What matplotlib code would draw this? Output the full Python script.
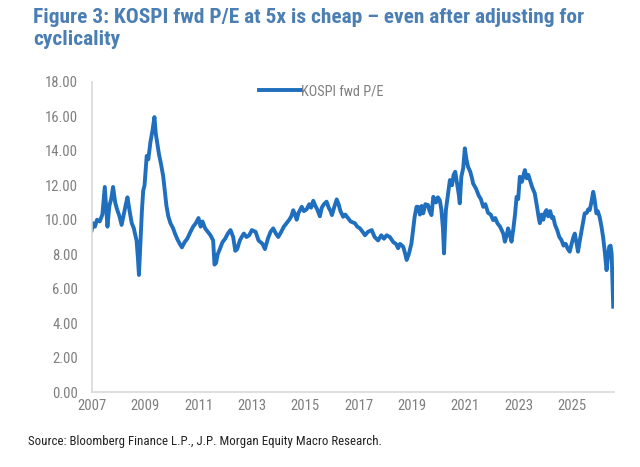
import matplotlib.pyplot as plt

# KOSPI 12m forward P/E (decimal years)
years = [
    2007.00, 2007.05, 2007.12, 2007.20, 2007.30, 2007.40, 2007.49, 2007.55, 2007.59, 2007.66,
    2007.73, 2007.80, 2007.88, 2007.95, 2008.04, 2008.12, 2008.20, 2008.28, 2008.34, 2008.42,
    2008.50, 2008.58, 2008.62, 2008.68, 2008.73, 2008.77, 2008.82, 2008.88, 2008.93, 2008.98,
    2009.06, 2009.12, 2009.20, 2009.28, 2009.35, 2009.40, 2009.44, 2009.52, 2009.60, 2009.68,
    2009.75, 2009.80, 2009.87, 2009.95, 2010.05, 2010.12, 2010.20, 2010.30, 2010.38, 2010.48,
    2010.58, 2010.70, 2010.80, 2010.90, 2011.00, 2011.08, 2011.15, 2011.25, 2011.35, 2011.45,
    2011.55, 2011.60, 2011.66, 2011.72, 2011.80, 2011.90, 2012.00, 2012.10, 2012.20, 2012.30,
    2012.38, 2012.45, 2012.55, 2012.62, 2012.70, 2012.80, 2012.90, 2013.00, 2013.14, 2013.25,
    2013.40, 2013.49, 2013.60, 2013.70, 2013.80, 2013.90, 2013.99, 2014.10, 2014.20, 2014.30,
    2014.40, 2014.48, 2014.55, 2014.62, 2014.68, 2014.75, 2014.87, 2014.95, 2015.05, 2015.15,
    2015.22, 2015.30, 2015.38, 2015.45, 2015.55, 2015.62, 2015.70, 2015.80, 2015.88, 2015.95,
    2016.00, 2016.10, 2016.18, 2016.25, 2016.32, 2016.42, 2016.50, 2016.60, 2016.70, 2016.86,
    2016.95, 2017.05, 2017.15, 2017.24, 2017.35, 2017.49, 2017.60, 2017.73, 2017.85, 2017.95,
    2018.05, 2018.17, 2018.30, 2018.40, 2018.48, 2018.55, 2018.67, 2018.75, 2018.80, 2018.88,
    2018.98, 2019.05, 2019.10, 2019.17, 2019.23, 2019.30, 2019.36, 2019.42, 2019.50, 2019.60,
    2019.66, 2019.73, 2019.80, 2019.90, 2019.97, 2020.04, 2020.10, 2020.16, 2020.20, 2020.24,
    2020.27, 2020.35, 2020.42, 2020.50, 2020.56, 2020.62, 2020.68, 2020.75, 2020.79, 2020.85,
    2020.92, 2020.98, 2021.04, 2021.10, 2021.18, 2021.25, 2021.29, 2021.40, 2021.50, 2021.58,
    2021.67, 2021.75, 2021.85, 2021.95, 2022.04, 2022.12, 2022.20, 2022.30, 2022.36, 2022.42,
    2022.48, 2022.55, 2022.60, 2022.66, 2022.73, 2022.80, 2022.86, 2022.92, 2022.98, 2023.04,
    2023.12, 2023.18, 2023.23, 2023.30, 2023.36, 2023.42, 2023.50, 2023.60, 2023.68, 2023.74,
    2023.79, 2023.86, 2023.92, 2023.98, 2024.04, 2024.10, 2024.18, 2024.24, 2024.29, 2024.36,
    2024.44, 2024.52, 2024.60, 2024.68, 2024.76, 2024.84, 2024.91, 2024.98, 2025.05, 2025.10,
    2025.16, 2025.22, 2025.30, 2025.38, 2025.47, 2025.55, 2025.60, 2025.66, 2025.72, 2025.79,
    2025.84, 2025.91, 2025.96, 2026.03, 2026.10, 2026.16, 2026.22, 2026.29, 2026.34, 2026.39,
    2026.44, 2026.48, 2026.51, 2026.54,
]
pe = [
    9.4, 9.8, 9.6, 10.0, 9.9, 10.3, 11.9, 10.5, 9.6, 10.8,
    11.2, 11.9, 11.0, 10.6, 10.2, 9.7, 10.3, 10.9, 11.3, 10.5,
    9.8, 9.5, 9.2, 8.8, 7.8, 6.8, 8.5, 10.5, 11.7, 12.0,
    13.7, 13.5, 14.5, 15.2, 15.95, 15.0, 14.6, 13.8, 13.2, 12.5,
    11.5, 10.8, 10.2, 9.8, 9.5, 9.2, 8.9, 8.6, 8.4, 8.7,
    8.9, 9.3, 9.6, 9.8, 10.1, 9.6, 9.9, 9.5, 9.3, 9.1,
    8.8, 7.4, 7.5, 8.0, 8.3, 8.7, 8.9, 9.2, 9.4, 9.0,
    8.2, 8.3, 8.8, 9.0, 9.2, 9.0, 9.1, 9.4, 9.3, 8.8,
    8.6, 8.3, 8.9, 9.3, 9.5, 9.2, 9.0, 9.3, 9.6, 9.8,
    10.0, 10.2, 10.55, 10.3, 10.0, 10.4, 10.75, 10.5, 10.6, 10.9,
    10.7, 11.1, 10.8, 10.6, 10.2, 10.7, 10.9, 11.05, 10.7, 10.5,
    10.27, 10.8, 11.18, 10.9, 10.5, 10.17, 10.3, 10.1, 9.9, 9.8,
    9.6, 9.5, 9.3, 9.1, 9.3, 9.4, 9.0, 8.8, 9.1, 8.9,
    9.1, 9.0, 8.7, 8.6, 8.35, 8.6, 8.44, 8.0, 7.67, 8.0,
    8.63, 9.5, 10.17, 10.75, 10.75, 10.3, 10.8, 10.37, 10.9, 10.85,
    10.5, 10.27, 11.33, 11.0, 11.3, 11.14, 10.6, 9.5, 8.05, 9.6,
    10.56, 11.5, 12.3, 12.0, 12.6, 12.78, 12.2, 11.5, 10.95, 12.5,
    13.0, 14.14, 13.5, 13.07, 12.8, 12.4, 12.1, 11.8, 11.4, 11.2,
    10.75, 10.9, 10.4, 10.3, 9.98, 10.1, 9.8, 9.6, 9.4, 9.2,
    8.73, 9.1, 9.5, 9.2, 8.73, 9.5, 10.3, 11.33, 11.2, 12.49,
    12.2, 12.6, 12.88, 12.4, 12.6, 12.3, 11.9, 11.53, 10.8, 10.2,
    9.8, 10.3, 10.0, 10.4, 10.56, 10.2, 10.5, 10.1, 10.17, 9.7,
    9.4, 9.0, 8.82, 8.5, 8.6, 8.3, 8.15, 8.6, 9.0, 9.2,
    8.7, 8.15, 8.9, 9.6, 10.37, 10.4, 10.6, 10.56, 11.0, 11.62,
    11.2, 10.37, 10.5, 10.17, 9.6, 9.0, 8.2, 7.08, 7.8, 8.44,
    8.5, 8.05, 6.5, 4.96,
]
year_ticks = [2007, 2009, 2011, 2013, 2015, 2017, 2019, 2021, 2023, 2025]
y_ticks = [0, 2, 4, 6, 8, 10, 12, 14, 16, 18]

plt.rcParams["font.family"] = ["Liberation Sans Narrow", "Roboto Condensed", "Roboto",
                               "Liberation Sans", "DejaVu Sans"]

fig = plt.figure(figsize=(6.4, 4.67), dpi=100)
ax = fig.add_axes([0.1433, 0.16, 0.8157, 0.665])

ax.plot(years, pe, color="#1f6fbe", linewidth=2.8, label="KOSPI fwd P/E",
        solid_joinstyle="round")

ax.set_xlim(2007, 2026.56)
ax.set_ylim(0, 18)
ax.set_xticks(year_ticks)
ax.set_xticklabels([str(y) for y in year_ticks])
ax.set_yticks(y_ticks)
ax.set_yticklabels([f"{v:.2f}" for v in y_ticks])
ax.tick_params(length=0, colors="#7f7f7f", labelsize=10.5, pad=5)
ax.tick_params(axis="y", pad=10)

for side in ["top", "right"]:
    ax.spines[side].set_visible(False)
for side in ["left", "bottom"]:
    ax.spines[side].set_color("#d9d9d9")
    ax.spines[side].set_linewidth(1.2)

leg = ax.legend(loc="center", bbox_to_anchor=(0.44, 0.97), frameon=False,
                handlelength=2.9, handletextpad=0.0, fontsize=10.3)
for t in leg.get_texts():
    t.set_color("#7f7f7f")

fig.text(0.052, 0.982, "Figure 3: KOSPI fwd P/E at 5x is cheap \u2013 even after adjusting for\ncyclicality",
         ha="left", va="top", fontsize=15.4, fontweight="bold", color="#4b7fb4",
         linespacing=1.15)
fig.text(0.043, 0.055, "Source: Bloomberg Finance L.P., J.P. Morgan Equity Macro Research.",
         ha="left", va="center", fontsize=9.3, color="#222222")

fig.savefig("out.png", dpi=100)
